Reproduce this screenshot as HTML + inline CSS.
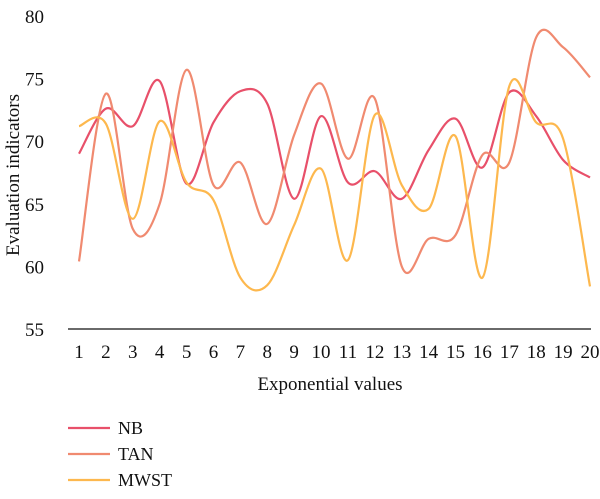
<!DOCTYPE html>
<html><head><meta charset="utf-8"><style>
body{margin:0;background:#fff}
svg text{font-family:"Liberation Serif",serif;fill:#111}
</style></head><body>
<svg width="600" height="494" id="c">
<line x1="68" y1="329" x2="591" y2="329" stroke="#111" stroke-width="1.3"/>
<g id="yt"></g>
<g id="xt"></g>
<g id="ser"></g>
<text x="330" y="390" font-size="19" text-anchor="middle">Exponential values</text>
<text transform="translate(19,175) rotate(-90)" font-size="19" text-anchor="middle">Evaluation indicators</text>
<g id="leg"></g>
</svg>
<script>
const categories=[1,2,3,4,5,6,7,8,9,10,11,12,13,14,15,16,17,18,19,20];
const yTicks=[55,60,65,70,75,80];
const seriesNames=["NB","TAN","MWST"];
const nb=[69,72.6,71.2,74.8,66.6,71.5,74,73,65.4,72,66.7,67.6,65.4,69.3,71.8,67.9,73.9,72,68.5,67.1];
const tan=[60.4,73.8,63,65,75.7,66.5,68.3,63.4,70.5,74.6,68.6,73.4,60,62.2,62.5,68.9,68.3,78.3,77.5,75.1];
const mwst=[71.2,71.4,63.8,71.6,66.7,65.3,59.1,58.5,63.3,67.8,60.5,72.1,66.5,64.6,70.4,59.1,74.4,71.5,70.2,58.4];
const colors=["#e8506a","#f08a70","#fdb84e"];
const NS="http://www.w3.org/2000/svg";
const x=i=>79+(i)*(590-79)/(categories.length-1);
const y=v=>329-(v-55)*(329-16)/25;
function mk(t,a,p){const e=document.createElementNS(NS,t);for(const k in a)e.setAttribute(k,a[k]);p.appendChild(e);return e;}
const yt=document.getElementById('yt');
yTicks.forEach(v=>{const t=mk('text',{x:44,y:y(v)+7,'font-size':19,'text-anchor':'end'},yt);


t.textContent=v;});
const xt=document.getElementById('xt');
categories.forEach((c,i)=>{const t=mk('text',{x:x(i),y:358,'font-size':19,'text-anchor':'middle'},xt);


t.textContent=c;});
function path(d){let s=`M${x(0)},${y(d[0])}`;
for(let i=0;i<d.length-1;i++){const p0=[x(Math.max(i-1,0)),y(d[Math.max(i-1,0)])],p1=[x(i),y(d[i])],p2=[x(i+1),y(d[i+1])],p3=[x(Math.min(i+2,d.length-1)),y(d[Math.min(i+2,d.length-1)])];
const c1=[p1[0]+(p2[0]-p0[0])/6,p1[1]+(p2[1]-p0[1])/6],c2=[p2[0]-(p3[0]-p1[0])/6,p2[1]-(p3[1]-p1[1])/6];
s+=` C${c1[0]},${c1[1]} ${c2[0]},${c2[1]} ${p2[0]},${p2[1]}`;}return s;}
const ser=document.getElementById('ser');
const leg=document.getElementById('leg');
[nb,tan,mwst].forEach((d,k)=>{const p=mk('path',{d:path(d),fill:'none',stroke:colors[k],'stroke-width':2.2},ser);


const ly=428+k*26;
const l=mk('line',{x1:68,y1:ly,x2:110,y2:ly,stroke:colors[k],'stroke-width':2.2},leg);


const t=mk('text',{x:118,y:ly+6,'font-size':18},leg);


t.textContent=seriesNames[k];});
</script>
</body></html>
